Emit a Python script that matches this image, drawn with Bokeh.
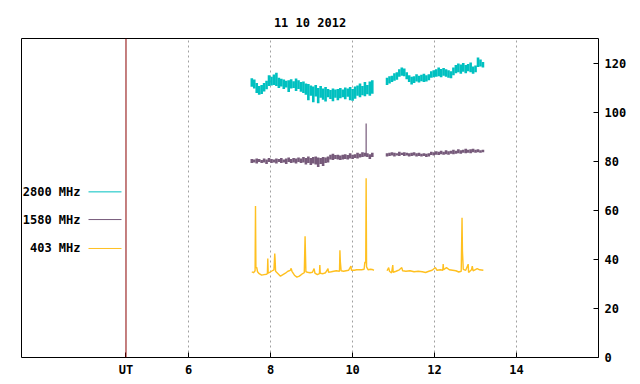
from bokeh.plotting import figure
from bokeh.models import LinearAxis, Range1d, FixedTicker, Span, Label, Grid
from bokeh.embed import file_html
from bokeh.resources import INLINE

# ---------------- data ----------------
T_SEG1 = [7.54, 7.60, 7.66, 7.72, 7.78, 7.84, 7.90, 7.96, 8.02, 8.08,
          8.14, 8.20, 8.26, 8.32, 8.38, 8.44, 8.50, 8.56, 8.62, 8.68,
          8.74, 8.80, 8.86, 8.92, 8.98, 9.04, 9.10, 9.16, 9.22, 9.28,
          9.34, 9.40, 9.46, 9.52, 9.58, 9.64, 9.70, 9.76, 9.82, 9.88,
          9.94, 10.00, 10.06, 10.12, 10.18, 10.24, 10.30, 10.36, 10.42, 10.48]
T_SEG2 = [10.84, 10.90, 10.96, 11.02, 11.08, 11.14, 11.20, 11.26, 11.32, 11.38,
          11.44, 11.50, 11.56, 11.62, 11.68, 11.74, 11.80, 11.86, 11.92, 11.98,
          12.04, 12.10, 12.16, 12.22, 12.28, 12.34, 12.40, 12.46, 12.52, 12.58,
          12.64, 12.70, 12.76, 12.82, 12.88, 12.94, 13.00, 13.06, 13.12, 13.18]

# 2800 MHz (min / max of the noise band in each sample)
F2800_LO_1 = [110.5, 109.8, 108.0, 107.2, 107.5, 108.6, 109.5, 110.8, 111.0, 111.2,
              110.8, 110.0, 110.6, 109.6, 110.2, 108.4, 109.8, 110.0, 108.8, 109.6,
              108.5, 108.0, 107.2, 105.0, 106.8, 104.2, 106.5, 103.8, 106.0, 105.2,
              104.5, 106.2, 105.5, 104.6, 106.0, 105.0, 105.8, 106.2, 105.4, 106.4,
              105.0, 104.8, 105.6, 106.8, 106.2, 107.0, 106.6, 107.4, 106.8, 107.6]
F2800_HI_1 = [114.0, 113.5, 112.0, 110.8, 111.2, 112.0, 113.0, 115.2, 114.6, 115.5,
              116.2, 114.2, 113.8, 113.5, 113.0, 113.2, 113.6, 112.8, 113.9, 113.2,
              112.4, 112.6, 111.8, 111.6, 111.0, 110.6, 111.2, 110.0, 110.8, 109.8,
              110.4, 109.6, 109.2, 109.8, 109.4, 109.6, 110.0, 109.4, 110.2, 109.8,
              110.4, 109.6, 110.6, 111.0, 111.8, 110.8, 112.4, 111.2, 112.6, 113.2]
F2800_LO_2 = [111.2, 111.8, 112.4, 113.0, 113.4, 114.6, 115.0, 114.8, 113.6, 112.4,
              111.4, 112.0, 112.6, 112.2, 112.8, 112.4, 112.6, 113.2, 114.2, 114.4,
              114.6, 114.8, 114.4, 115.0, 114.6, 114.2, 114.0, 115.2, 116.0, 116.4,
              115.8, 116.6, 116.0, 116.8, 116.4, 115.8, 116.4, 118.6, 118.8, 118.4]
F2800_HI_2 = [114.2, 114.8, 115.0, 116.0, 116.4, 117.6, 118.4, 118.0, 116.4, 115.2,
              114.6, 114.8, 115.6, 115.0, 115.4, 115.8, 115.2, 115.6, 116.8, 117.2,
              117.6, 118.4, 117.8, 118.2, 117.6, 117.2, 116.8, 118.4, 119.4, 120.0,
              119.6, 120.2, 119.4, 119.8, 120.4, 118.8, 119.2, 122.4, 121.6, 120.6]

# 1580 MHz
F1580_LO_1 = [79.4, 79.6, 79.2, 79.8, 79.4, 79.6, 79.0, 79.8, 79.4, 79.6,
              79.2, 79.8, 79.4, 79.6, 79.0, 79.8, 79.4, 79.6, 79.2, 79.8,
              79.4, 79.6, 78.8, 79.4, 78.6, 79.2, 78.8, 77.8, 79.0, 78.2,
              79.4, 79.6, 80.8, 80.6, 81.0, 80.8, 80.6, 80.8, 81.0, 80.8,
              81.2, 81.0, 81.4, 81.2, 81.6, 81.8, 82.0, 81.8, 81.0, 81.8]
F1580_HI_1 = [81.0, 80.8, 81.2, 81.0, 80.6, 81.2, 80.8, 81.4, 81.0, 80.8,
              81.2, 81.0, 81.4, 80.8, 81.2, 81.6, 81.0, 81.4, 81.2, 81.6,
              81.2, 81.8, 81.4, 82.0, 81.4, 81.8, 82.0, 81.6, 81.4, 81.8,
              81.6, 82.0, 82.8, 83.2, 82.6, 82.8, 82.4, 82.8, 83.0, 82.6,
              83.4, 82.8, 83.0, 83.6, 83.2, 83.8, 83.6, 83.4, 83.0, 83.6]
F1580_LO_2 = [82.0, 82.2, 82.4, 82.0, 82.4, 82.2, 82.6, 82.2, 82.4, 82.0,
              82.2, 82.4, 82.0, 82.2, 82.0, 82.2, 81.8, 82.0, 82.6, 82.4,
              82.8, 82.6, 83.0, 82.8, 83.0, 82.8, 83.2, 83.0, 83.2, 83.4,
              83.2, 83.6, 83.4, 83.6, 83.4, 83.8, 83.6, 83.8, 83.6, 83.8]
F1580_HI_2 = [83.4, 83.6, 83.8, 83.6, 83.4, 84.0, 83.6, 83.8, 83.6, 83.4,
              83.6, 83.8, 83.4, 83.6, 83.2, 83.4, 83.2, 83.4, 84.0, 83.8,
              84.2, 84.0, 84.4, 84.0, 84.6, 84.2, 84.4, 84.8, 84.4, 85.0,
              84.6, 84.8, 85.2, 84.8, 85.0, 85.2, 84.8, 85.0, 84.6, 84.8]
F1580_SPIKE_T = [10.33]
F1580_SPIKE_BASE = [82.4]
F1580_SPIKE_PEAK = [95.5]

# 403 MHz
T403_1 = [7.54, 7.58, 7.61, 7.62, 7.63, 7.64, 7.66, 7.68, 7.72, 7.78,
          7.84, 7.90, 7.92, 7.93, 7.94, 7.98, 8.04, 8.08, 8.10, 8.11,
          8.12, 8.18, 8.24, 8.30, 8.36, 8.42, 8.48, 8.50, 8.52, 8.58,
          8.64, 8.70, 8.76, 8.82, 8.84, 8.86, 8.90, 8.96, 9.02, 9.06,
          9.08, 9.14, 9.19, 9.20, 9.21, 9.28, 9.34, 9.40, 9.41, 9.48,
          9.54, 9.60, 9.68, 9.69, 9.70, 9.72, 9.78, 9.84, 9.90, 9.96,
          9.97, 10.04, 10.10, 10.16, 10.22, 10.28, 10.30, 10.32, 10.33, 10.34,
          10.38, 10.44, 10.50, 10.52]
F403_1 = [35.0, 34.6, 35.2, 35.4, 61.8, 36.6, 36.8, 35.0, 34.2, 33.6,
          33.8, 34.0, 34.2, 40.4, 34.4, 34.8, 35.4, 35.8, 42.4, 39.6,
          35.2, 34.2, 33.2, 33.8, 34.4, 35.2, 35.6, 36.4, 35.2, 33.6,
          32.8, 33.2, 34.0, 34.6, 49.5, 35.0, 34.8, 34.6, 34.8, 36.3,
          34.4, 33.8, 34.2, 37.7, 34.4, 34.2, 34.6, 36.3, 34.8, 35.0,
          35.2, 35.4, 35.2, 43.8, 39.3, 35.4, 35.2, 35.4, 35.6, 37.3,
          35.6, 35.6, 35.8, 35.8, 35.8, 36.0, 39.0, 38.6, 73.2, 37.0,
          35.8, 36.0, 35.8, 35.6]
T403_2 = [10.84, 10.88, 10.90, 10.95, 10.98, 10.99, 11.06, 11.14, 11.20, 11.22,
          11.30, 11.40, 11.50, 11.60, 11.70, 11.78, 11.86, 11.94, 12.02, 12.06,
          12.14, 12.20, 12.21, 12.22, 12.29, 12.36, 12.44, 12.52, 12.59, 12.65,
          12.67, 12.68, 12.70, 12.76, 12.82, 12.83, 12.90, 12.92, 12.94, 13.04,
          13.10, 13.19]
F403_2 = [35.4, 36.7, 35.2, 34.5, 37.7, 34.8, 35.2, 35.8, 36.7, 35.4,
          35.2, 35.4, 35.0, 35.2, 35.0, 34.7, 35.2, 35.6, 36.7, 35.6,
          35.8, 35.6, 38.1, 35.8, 36.7, 35.8, 35.6, 35.4, 34.9, 35.2,
          57.0, 43.5, 36.0, 35.6, 38.1, 34.7, 35.8, 37.3, 35.4, 36.3,
          35.8, 35.6]

X_TICKS = [6, 8, 10, 12, 14]
UT_POS = 4.47
Y_TICKS = [0, 20, 40, 60, 80, 100, 120]
SERIES_NAMES = ["2800 MHz", "1580 MHz", "403 MHz"]
TITLE = "11 10 2012"

# ---------------- styles ----------------
C2800 = "#00c0c0"
C1580 = "#765a7a"
C403 = "#ffc020"
FONT = "DejaVu Sans Mono"
FSIZE = "12px"

p = figure(frame_width=577, frame_height=319,
           x_range=Range1d(1.92, 16.0), y_range=Range1d(0, 130.2),
           output_backend="svg", toolbar_location=None,
           x_axis_location=None, y_axis_location=None,
           min_border_left=21, min_border_top=38, min_border_right=36, min_border_bottom=20)
p.background_fill_color = "white"
p.border_fill_color = "white"
p.outline_line_color = "black"
p.outline_line_width = 1

# drop default grids
p.center = [r for r in p.center if not isinstance(r, Grid)]

p.title.text = TITLE
p.title.align = "center"
p.title.text_font = FONT
p.title.text_font_size = FSIZE
p.title.text_font_style = "bold"
p.title.text_color = "black"
p.title.standoff = 17

grid = Grid(dimension=0, ticker=FixedTicker(ticks=X_TICKS),
            grid_line_color="#a0a0a0", grid_line_dash="2 3", grid_line_width=1)
p.add_layout(grid)

xa = LinearAxis(ticker=FixedTicker(ticks=[UT_POS] + X_TICKS),
                major_label_overrides={UT_POS: "UT"},
                axis_line_color=None, major_tick_in=5, major_tick_out=0,
                major_tick_line_color="black", minor_tick_line_color=None,
                major_label_standoff=5, major_label_text_font=FONT,
                major_label_text_font_size=FSIZE, major_label_text_font_style="bold",
                major_label_text_color="black")
p.add_layout(xa, "below")

ya = LinearAxis(ticker=FixedTicker(ticks=Y_TICKS),
                axis_line_color=None, major_tick_in=5, major_tick_out=0,
                major_tick_line_color="black", minor_tick_line_color=None,
                major_label_standoff=6, major_label_text_font=FONT,
                major_label_text_font_size=FSIZE, major_label_text_font_style="bold",
                major_label_text_color="black")
p.add_layout(ya, "right")

p.add_layout(Span(location=UT_POS, dimension="height", line_color="#8b0000", line_width=1))

# 403 MHz
p.line(T403_1, F403_1, line_color=C403, line_width=1.4)
p.line(T403_2, F403_2, line_color=C403, line_width=1.4)

# 1580 MHz band
T_ALL = T_SEG1 + T_SEG2
p.segment(x0=T_ALL, y0=F1580_LO_1 + F1580_LO_2, x1=T_ALL, y1=F1580_HI_1 + F1580_HI_2,
          line_color=C1580, line_width=2.6)
p.segment(x0=F1580_SPIKE_T, y0=F1580_SPIKE_BASE, x1=F1580_SPIKE_T, y1=F1580_SPIKE_PEAK,
          line_color=C1580, line_width=1.2)

# 2800 MHz band
p.segment(x0=T_ALL, y0=F2800_LO_1 + F2800_LO_2, x1=T_ALL, y1=F2800_HI_1 + F2800_HI_2,
          line_color=C2800, line_width=2.6)

# legend (gnuplot style: text then sample line)
LEG_TEXT_X = 3.36
LEG_LINE_X0 = 3.555
LEG_LINE_X1 = 4.36
LEG_Y = [67.6, 56.3, 44.5]
for name, yy, col in zip(SERIES_NAMES, LEG_Y, [C2800, C1580, C403]):
    p.add_layout(Label(x=LEG_TEXT_X, y=yy, text=name, text_align="right",
                       text_baseline="middle", text_font=FONT, text_font_size=FSIZE,
                       text_font_style="bold", text_color="black"))
    p.segment(x0=[LEG_LINE_X0], y0=[yy], x1=[LEG_LINE_X1], y1=[yy], line_color=col, line_width=1)

open("out.html", "w").write(file_html(p, INLINE))
